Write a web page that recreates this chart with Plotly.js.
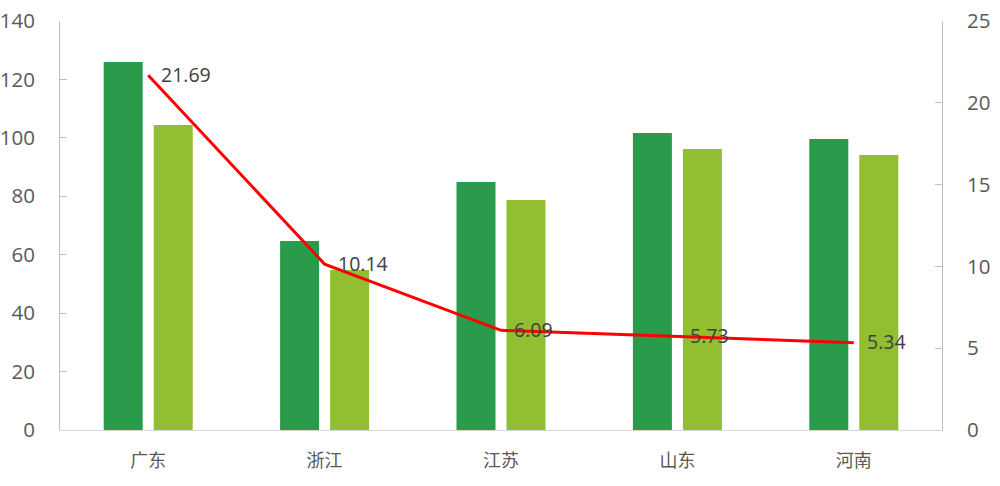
<!DOCTYPE html>
<html><head><meta charset="utf-8">
<script src="https://cdn.plot.ly/plotly-3.0.1.min.js"></script>
<style>html,body{margin:0;padding:0;background:#fff}#chart{width:1000px;height:486px}</style>
</head><body><div id="chart"></div>
<script>
const categories = ['广东','浙江','江苏','山东','河南'];
const seriesA = [126.0, 64.7, 84.9, 101.7, 99.6];
const seriesB = [104.4, 54.8, 78.7, 96.2, 94.1];
const lineValues = [21.69, 10.14, 6.09, 5.73, 5.34];
const leftTicks = [0,20,40,60,80,100,120,140];
const rightTicks = [0,5,10,15,20,25];

const fontFam = '"Open Sans","Noto Sans CJK SC",sans-serif';
const data = [
  {type:'bar', x:categories, y:seriesA, marker:{color:'#2a9a4b'}, yaxis:'y', hoverinfo:'skip'},
  {type:'bar', x:categories, y:seriesB, marker:{color:'#92bf31'}, yaxis:'y', hoverinfo:'skip'},
  {type:'scatter', mode:'lines', x:categories, y:lineValues, yaxis:'y2',
   line:{color:'#ff0000', width:3}, cliponaxis:false}
];
const annotations = categories.map((c,i)=>({
  x:c, y:lineValues[i], xref:'x', yref:'y2', text:lineValues[i].toFixed(2),
  showarrow:false, xanchor:'left', yanchor:'middle', xshift:11, yshift:1,
  font:{size:19.5, color:'#404040', family:fontFam}
}));
const layout = {
  width:1000, height:486,
  margin:{l:60, r:58, t:21, b:56},
  paper_bgcolor:'#fff', plot_bgcolor:'#fff',
  showlegend:false, barmode:'group', bargap:0.433, bargroupgap:0.22,
  font:{family:fontFam, color:'#595959'},
  annotations:annotations,
  xaxis:{showline:true, linecolor:'#d9d9d9', linewidth:1, ticks:'', ticklabelstandoff:14,
         tickfont:{size:18, color:'#595959', family:'"Noto Sans CJK SC",sans-serif'}, fixedrange:true},
  yaxis:{range:[0,140], tickvals:leftTicks, showgrid:false, zeroline:false, showline:true, linecolor:'#bfbfbf', linewidth:1,
         ticks:'inside', ticklen:7, tickcolor:'#bfbfbf', tickfont:{size:20.5, color:'#595959'}, ticklabelstandoff:20},
  yaxis2:{range:[0,25], tickvals:rightTicks, overlaying:'y', side:'right', showgrid:false, zeroline:false, showline:true, linecolor:'#bfbfbf', linewidth:1,
          ticks:'inside', ticklen:7, tickcolor:'#bfbfbf', tickfont:{size:20.5, color:'#595959'}, ticklabelstandoff:20}
};
Plotly.newPlot('chart', data, layout, {staticPlot:true});
</script></body></html>
